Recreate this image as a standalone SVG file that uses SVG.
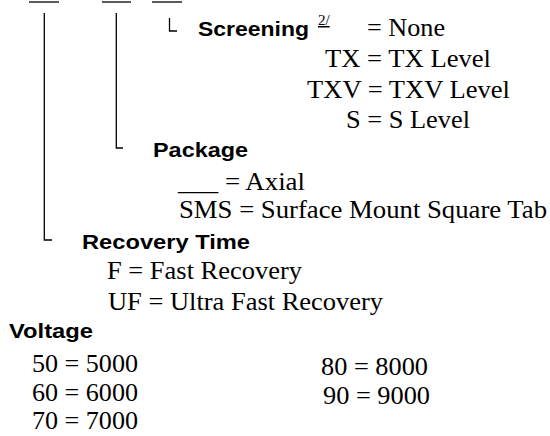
<svg xmlns="http://www.w3.org/2000/svg" width="550" height="436" viewBox="0 0 550 436">
<style>
.ln{stroke:#000;stroke-width:1.3;fill:none}
</style>
<rect width="550" height="436" fill="#fff"/>
<g id="template">
<line class="ln" x1="29" y1="2" x2="59" y2="2"/>
<line class="ln" x1="102" y1="2" x2="131" y2="2"/>
<line class="ln" x1="152" y1="2" x2="182" y2="2"/>
</g>
<g id="connectors">
<path class="ln" d="M44.3,13 V240 H52"/>
<path class="ln" d="M116.3,13 V148 H123"/>
<path class="ln" d="M169.5,18 V31 H177"/>
</g>
<g id="screening">
<text x="198" y="36" font-family="Liberation Sans" font-weight="bold" font-size="21" textLength="111" lengthAdjust="spacingAndGlyphs">Screening</text>
<text x="318" y="25" font-family="Liberation Serif" font-size="15" text-decoration="underline">2/</text>
<g font-family="Liberation Serif" font-size="26">
<text x="367" y="36" textLength="78" lengthAdjust="spacingAndGlyphs">= None</text>
<text x="325" y="67" textLength="166" lengthAdjust="spacingAndGlyphs">TX = TX Level</text>
<text x="307" y="98" textLength="203" lengthAdjust="spacingAndGlyphs">TXV = TXV Level</text>
<text x="346" y="128" textLength="124" lengthAdjust="spacingAndGlyphs">S = S Level</text>
</g>
</g>
<g id="package">
<text x="153" y="157" font-family="Liberation Sans" font-weight="bold" font-size="21" textLength="95" lengthAdjust="spacingAndGlyphs">Package</text>
<g font-family="Liberation Serif" font-size="26">
<text x="178" y="190" textLength="127" lengthAdjust="spacingAndGlyphs">___ = Axial</text>
<text x="179" y="218" textLength="368" lengthAdjust="spacingAndGlyphs">SMS = Surface Mount Square Tab</text>
</g>
</g>
<g id="recovery-time">
<text x="82" y="249" font-family="Liberation Sans" font-weight="bold" font-size="21" textLength="168" lengthAdjust="spacingAndGlyphs">Recovery Time</text>
<g font-family="Liberation Serif" font-size="26">
<text x="107" y="279" textLength="195" lengthAdjust="spacingAndGlyphs">F = Fast Recovery</text>
<text x="108" y="310" textLength="275" lengthAdjust="spacingAndGlyphs">UF = Ultra Fast Recovery</text>
</g>
</g>
<g id="voltage">
<text x="9" y="338" font-family="Liberation Sans" font-weight="bold" font-size="21" textLength="84" lengthAdjust="spacingAndGlyphs">Voltage</text>
<g font-family="Liberation Serif" font-size="26">
<text x="32" y="372" textLength="106" lengthAdjust="spacingAndGlyphs">50 = 5000</text>
<text x="32" y="401" textLength="106" lengthAdjust="spacingAndGlyphs">60 = 6000</text>
<text x="32" y="429" textLength="106" lengthAdjust="spacingAndGlyphs">70 = 7000</text>
<text x="321" y="375" textLength="107" lengthAdjust="spacingAndGlyphs">80 = 8000</text>
<text x="323" y="404" textLength="107" lengthAdjust="spacingAndGlyphs">90 = 9000</text>
</g>
</g>
</svg>
